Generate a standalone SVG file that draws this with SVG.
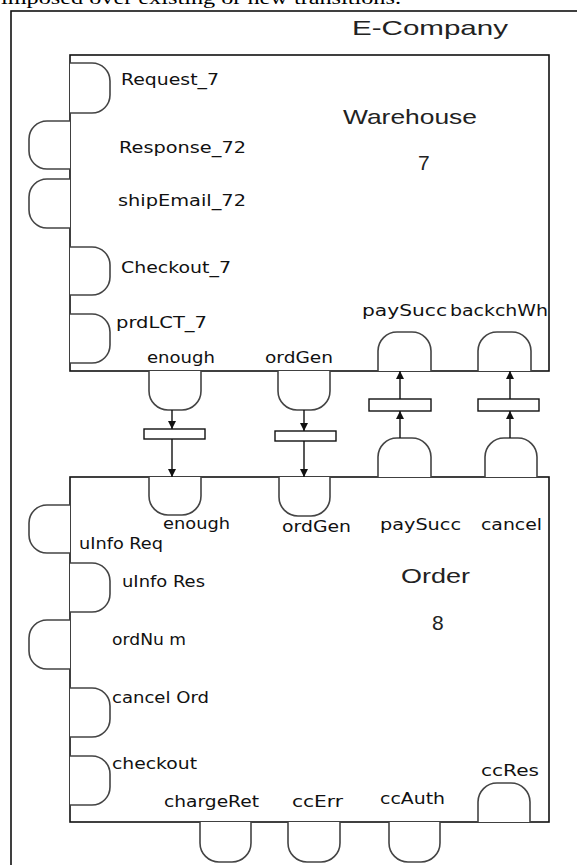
<svg xmlns="http://www.w3.org/2000/svg" width="577" height="865" viewBox="0 0 577 865">
<style>
.bg{fill:#fff}
.box{fill:none;stroke:#111;stroke-width:1.6}
.pl{fill:#fff;stroke:#444;stroke-width:1.6}
.tr{fill:#fff;stroke:#111;stroke-width:1.4}
.arc{fill:none;stroke:#111;stroke-width:1.4;marker-end:url(#ah)}
.lb{font-family:"DejaVu Sans",Verdana,sans-serif;font-size:15px;fill:#111}
.tt{font-family:"Liberation Sans",Arial,sans-serif;font-size:21px;fill:#222}
.cap{font-family:"Liberation Serif","Times New Roman",serif;font-size:19px;fill:#000}
</style>
<defs>
<marker id="ah" markerUnits="userSpaceOnUse" markerWidth="8" markerHeight="8" refX="8" refY="4" orient="auto">
<path d="M0,0 L8,4 L0,8 z" fill="#111"/>
</marker>
</defs>
<rect class="bg" x="0" y="0" width="577" height="865"/>
<text class="cap" x="1" y="4" textLength="400" lengthAdjust="spacingAndGlyphs">imposed over existing or new transitions.</text>

<g id="e-company">
<rect class="box" x="11" y="11" width="620" height="900"/>
<text class="tt" x="352" y="35" textLength="156" lengthAdjust="spacingAndGlyphs">E-Company</text>
</g>

<g id="warehouse">
<rect class="box" x="70" y="55" width="479" height="316"/>
<text class="tt" x="343" y="124" textLength="134" lengthAdjust="spacingAndGlyphs">Warehouse</text>
<text class="tt" x="418" y="170">7</text>
</g>

<g id="order">
<rect class="box" x="70" y="477" width="479" height="345"/>
<text class="tt" x="401" y="583" textLength="69" lengthAdjust="spacingAndGlyphs">Order</text>
<text class="tt" x="432" y="630">8</text>
</g>

<g id="w-request7"><path class="pl" d="M70,63 H92 A18,18 0 0 1 110,81 V95 A18,18 0 0 1 92,113 H70"/><text class="lb" x="121" y="85" textLength="98" lengthAdjust="spacingAndGlyphs">Request_7</text></g>
<g id="w-response72"><path class="pl" d="M70,121 H47 A18,18 0 0 0 29,139 V151 A18,18 0 0 0 47,169 H70"/><text class="lb" x="119" y="153" textLength="127" lengthAdjust="spacingAndGlyphs">Response_72</text></g>
<g id="w-shipemail72"><path class="pl" d="M70,179 H47 A18,18 0 0 0 29,197 V210 A18,18 0 0 0 47,228 H70"/><text class="lb" x="118" y="206" textLength="128" lengthAdjust="spacingAndGlyphs">shipEmail_72</text></g>
<g id="w-checkout7"><path class="pl" d="M70,247 H92 A18,18 0 0 1 110,265 V277 A18,18 0 0 1 92,295 H70"/><text class="lb" x="121" y="273" textLength="110" lengthAdjust="spacingAndGlyphs">Checkout_7</text></g>
<g id="w-prdlct7"><path class="pl" d="M70,314 H92 A18,18 0 0 1 110,332 V345 A18,18 0 0 1 92,363 H70"/><text class="lb" x="116" y="328" textLength="91" lengthAdjust="spacingAndGlyphs">prdLCT_7</text></g>
<g id="w-enough"><path class="pl" d="M149,371 V391 A19,19 0 0 0 168,410 H182 A19,19 0 0 0 201,391 V371"/><text class="lb" x="147" y="363" textLength="68" lengthAdjust="spacingAndGlyphs">enough</text></g>
<g id="w-ordgen"><path class="pl" d="M278,371 V391 A19,19 0 0 0 297,410 H311 A19,19 0 0 0 330,391 V371"/><text class="lb" x="265" y="363" textLength="68" lengthAdjust="spacingAndGlyphs">ordGen</text></g>
<g id="w-paysucc"><path class="pl" d="M378,371 V351 A19,19 0 0 1 397,332 H412 A19,19 0 0 1 431,351 V371"/><text class="lb" x="362" y="316" textLength="85" lengthAdjust="spacingAndGlyphs">paySucc</text></g>
<g id="w-backchwh"><path class="pl" d="M478,371 V351 A19,19 0 0 1 497,332 H512 A19,19 0 0 1 531,351 V371"/><text class="lb" x="450" y="316" textLength="98" lengthAdjust="spacingAndGlyphs">backchWh</text></g>

<g id="o-enough"><path class="pl" d="M149,477 V496 A19,19 0 0 0 168,515 H182 A19,19 0 0 0 201,496 V477"/><text class="lb" x="163" y="529" textLength="67" lengthAdjust="spacingAndGlyphs">enough</text></g>
<g id="o-ordgen"><path class="pl" d="M279,477 V497 A19,19 0 0 0 298,516 H311 A19,19 0 0 0 330,497 V477"/><text class="lb" x="282" y="532" textLength="69" lengthAdjust="spacingAndGlyphs">ordGen</text></g>
<g id="o-paysucc"><path class="pl" d="M378,477 V457 A19,19 0 0 1 397,438 H412 A19,19 0 0 1 431,457 V477"/><text class="lb" x="380" y="530" textLength="81" lengthAdjust="spacingAndGlyphs">paySucc</text></g>
<g id="o-cancel"><path class="pl" d="M485,477 V457 A19,19 0 0 1 504,438 H518 A19,19 0 0 1 537,457 V477"/><text class="lb" x="481" y="530" textLength="61" lengthAdjust="spacingAndGlyphs">cancel</text></g>
<g id="o-uinforeq"><path class="pl" d="M70,505 H47 A18,18 0 0 0 29,523 V535 A18,18 0 0 0 47,553 H70"/><text class="lb" x="79" y="549" textLength="84" lengthAdjust="spacingAndGlyphs">uInfo Req</text></g>
<g id="o-uinfores"><path class="pl" d="M70,563 H92 A18,18 0 0 1 110,581 V594 A18,18 0 0 1 92,612 H70"/><text class="lb" x="122" y="587" textLength="83" lengthAdjust="spacingAndGlyphs">uInfo Res</text></g>
<g id="o-ordnum"><path class="pl" d="M70,620 H47 A18,18 0 0 0 29,638 V651 A18,18 0 0 0 47,669 H70"/><text class="lb" x="112" y="645" textLength="74" lengthAdjust="spacingAndGlyphs">ordNu m</text></g>
<g id="o-cancelord"><path class="pl" d="M70,688 H92 A18,18 0 0 1 110,706 V719 A18,18 0 0 1 92,737 H70"/><text class="lb" x="112" y="703" textLength="97" lengthAdjust="spacingAndGlyphs">cancel Ord</text></g>
<g id="o-checkout"><path class="pl" d="M70,756 H92 A18,18 0 0 1 110,774 V787 A18,18 0 0 1 92,805 H70"/><text class="lb" x="112" y="769" textLength="85" lengthAdjust="spacingAndGlyphs">checkout</text></g>
<g id="o-chargeret"><path class="pl" d="M200,822 V843 A19,19 0 0 0 219,862 H232 A19,19 0 0 0 251,843 V822"/><text class="lb" x="164" y="807" textLength="95" lengthAdjust="spacingAndGlyphs">chargeRet</text></g>
<g id="o-ccerr"><path class="pl" d="M288,822 V843 A19,19 0 0 0 307,862 H321 A19,19 0 0 0 340,843 V822"/><text class="lb" x="292" y="807" textLength="51" lengthAdjust="spacingAndGlyphs">ccErr</text></g>
<g id="o-ccauth"><path class="pl" d="M389,822 V843 A19,19 0 0 0 408,862 H421 A19,19 0 0 0 440,843 V822"/><text class="lb" x="380" y="804" textLength="65" lengthAdjust="spacingAndGlyphs">ccAuth</text></g>
<g id="o-ccres"><path class="pl" d="M478,822 V802 A19,19 0 0 1 497,783 H511 A19,19 0 0 1 530,802 V822"/><text class="lb" x="481" y="776" textLength="58" lengthAdjust="spacingAndGlyphs">ccRes</text></g>

<g id="t-enough"><rect class="tr" x="144" y="429" width="61" height="10"/></g>
<g id="t-ordgen"><rect class="tr" x="275" y="431" width="61" height="10"/></g>
<g id="t-paysucc"><rect class="tr" x="369" y="399" width="62" height="12"/></g>
<g id="t-cancel"><rect class="tr" x="478" y="399" width="61" height="12"/></g>

<g id="connectors">
<path class="arc" d="M172,410 V429"/>
<path class="arc" d="M172,439 V477"/>
<path class="arc" d="M304,410 V431"/>
<path class="arc" d="M304,441 V477"/>
<path class="arc" d="M400,438 V411"/>
<path class="arc" d="M400,399 V371"/>
<path class="arc" d="M510,438 V411"/>
<path class="arc" d="M510,399 V371"/>
</g>
</svg>
